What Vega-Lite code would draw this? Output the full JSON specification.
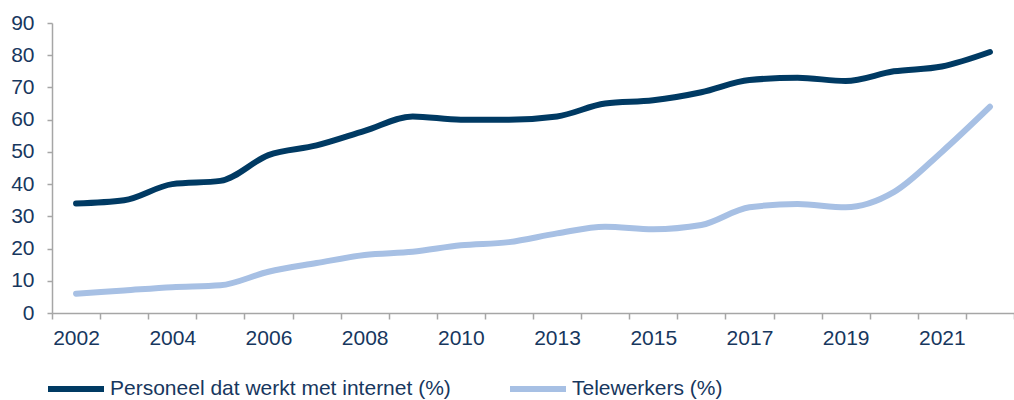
{
  "$schema": "https://vega.github.io/schema/vega-lite/v6.json",
  "width": 962,
  "height": 290,
  "autosize": "none",
  "padding": {"left": 52, "top": 23, "right": 0, "bottom": 87},
  "background": "white",
  "config": {
    "view": {"stroke": null},
    "font": "Liberation Sans"
  },
  "data": {
    "values": [
      {"jaar": "2002", "reeks": "Personeel dat werkt met internet (%)", "waarde": 34},
      {"jaar": "2003", "reeks": "Personeel dat werkt met internet (%)", "waarde": 35},
      {"jaar": "2004", "reeks": "Personeel dat werkt met internet (%)", "waarde": 40},
      {"jaar": "2005", "reeks": "Personeel dat werkt met internet (%)", "waarde": 41},
      {"jaar": "2006", "reeks": "Personeel dat werkt met internet (%)", "waarde": 49},
      {"jaar": "2007", "reeks": "Personeel dat werkt met internet (%)", "waarde": 52},
      {"jaar": "2008", "reeks": "Personeel dat werkt met internet (%)", "waarde": 56.5},
      {"jaar": "2009", "reeks": "Personeel dat werkt met internet (%)", "waarde": 61},
      {"jaar": "2010", "reeks": "Personeel dat werkt met internet (%)", "waarde": 60},
      {"jaar": "2012", "reeks": "Personeel dat werkt met internet (%)", "waarde": 60},
      {"jaar": "2013", "reeks": "Personeel dat werkt met internet (%)", "waarde": 61},
      {"jaar": "2014", "reeks": "Personeel dat werkt met internet (%)", "waarde": 65},
      {"jaar": "2015", "reeks": "Personeel dat werkt met internet (%)", "waarde": 66},
      {"jaar": "2016", "reeks": "Personeel dat werkt met internet (%)", "waarde": 68.5},
      {"jaar": "2017", "reeks": "Personeel dat werkt met internet (%)", "waarde": 72.3},
      {"jaar": "2018", "reeks": "Personeel dat werkt met internet (%)", "waarde": 73},
      {"jaar": "2019", "reeks": "Personeel dat werkt met internet (%)", "waarde": 72},
      {"jaar": "2020", "reeks": "Personeel dat werkt met internet (%)", "waarde": 75},
      {"jaar": "2021", "reeks": "Personeel dat werkt met internet (%)", "waarde": 76.5},
      {"jaar": "2022", "reeks": "Personeel dat werkt met internet (%)", "waarde": 81},
      {"jaar": "2002", "reeks": "Telewerkers (%)", "waarde": 6},
      {"jaar": "2003", "reeks": "Telewerkers (%)", "waarde": 7},
      {"jaar": "2004", "reeks": "Telewerkers (%)", "waarde": 8},
      {"jaar": "2005", "reeks": "Telewerkers (%)", "waarde": 8.6},
      {"jaar": "2006", "reeks": "Telewerkers (%)", "waarde": 12.8},
      {"jaar": "2007", "reeks": "Telewerkers (%)", "waarde": 15.5},
      {"jaar": "2008", "reeks": "Telewerkers (%)", "waarde": 18},
      {"jaar": "2009", "reeks": "Telewerkers (%)", "waarde": 19},
      {"jaar": "2010", "reeks": "Telewerkers (%)", "waarde": 21},
      {"jaar": "2012", "reeks": "Telewerkers (%)", "waarde": 22},
      {"jaar": "2013", "reeks": "Telewerkers (%)", "waarde": 24.7},
      {"jaar": "2014", "reeks": "Telewerkers (%)", "waarde": 26.8},
      {"jaar": "2015", "reeks": "Telewerkers (%)", "waarde": 26},
      {"jaar": "2016", "reeks": "Telewerkers (%)", "waarde": 27.3},
      {"jaar": "2017", "reeks": "Telewerkers (%)", "waarde": 32.8},
      {"jaar": "2018", "reeks": "Telewerkers (%)", "waarde": 33.8},
      {"jaar": "2019", "reeks": "Telewerkers (%)", "waarde": 32.8},
      {"jaar": "2020", "reeks": "Telewerkers (%)", "waarde": 37.5},
      {"jaar": "2021", "reeks": "Telewerkers (%)", "waarde": 50},
      {"jaar": "2022", "reeks": "Telewerkers (%)", "waarde": 64}
    ]
  },
  "mark": {"type": "line", "interpolate": "monotone", "strokeWidth": 6, "strokeCap": "round"},
  "encoding": {
    "x": {
      "field": "jaar",
      "type": "ordinal",
      "scale": {"type": "band", "paddingInner": 0, "paddingOuter": 0},
      "axis": {
        "title": null,
        "tickBand": "extent",
        "labelAngle": 0,
        "labelExpr": "indexof(['2002','2004','2006','2008','2010','2013','2015','2017','2019','2021'], datum.value) >= 0 ? datum.value : ''",
        "labelFontSize": 21,
        "labelColor": "#17375E",
        "labelPadding": 8,
        "domainColor": "#A6A6A6",
        "domainWidth": 1.5,
        "tickColor": "#A6A6A6",
        "tickWidth": 1.5,
        "tickSize": 6,
        "grid": false
      }
    },
    "y": {
      "field": "waarde",
      "type": "quantitative",
      "scale": {"domain": [0, 90], "nice": false},
      "axis": {
        "title": null,
        "values": [0, 10, 20, 30, 40, 50, 60, 70, 80, 90],
        "labelFontSize": 21,
        "labelColor": "#17375E",
        "labelPadding": 13,
        "domainColor": "#A6A6A6",
        "domainWidth": 1.5,
        "tickColor": "#A6A6A6",
        "tickWidth": 1.5,
        "tickSize": 5,
        "grid": false
      }
    },
    "color": {
      "field": "reeks",
      "type": "nominal",
      "scale": {
        "domain": ["Personeel dat werkt met internet (%)", "Telewerkers (%)"],
        "range": ["#003A63", "#A7C0E4"]
      },
      "legend": {
        "title": null,
        "orient": "none",
        "direction": "horizontal",
        "legendX": -7,
        "legendY": 335,
        "padding": 0,
        "symbolType": "stroke",
        "symbolSize": 3136,
        "symbolStrokeWidth": 6,
        "labelFontSize": 21,
        "labelColor": "#17375E",
        "labelOffset": 3,
        "columnPadding": 47,
        "labelLimit": 400
      }
    }
  }
}
